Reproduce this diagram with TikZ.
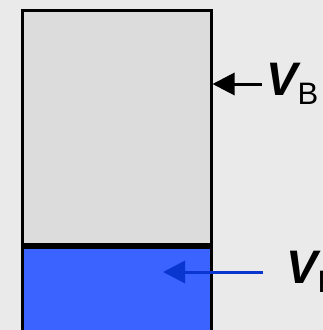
\documentclass[tikz,border=0pt]{standalone}
\usepackage{fontspec}
\setmainfont{Liberation Sans}
\usetikzlibrary{arrows.meta,positioning,calc}
\definecolor{fond}{HTML}{EAEAEA}
\definecolor{cuve}{HTML}{DCDCDC}
\definecolor{fluide}{HTML}{3A63FF}
\definecolor{bleuF}{HTML}{0A36D0}
\tikzset{
  part/.style={rectangle, draw=black, line width=3pt, fill=#1, minimum width=189pt, inner sep=0pt},
  lab/.style={inner sep=0pt, anchor=west},
  arr/.style={-{Triangle[length=22pt,width=22pt]}, line width=3pt, draw=#1},
}
\newcommand{\lettre}[2]{{\fontsize{47}{47}\selectfont\bfseries\itshape #1}{\fontsize{31}{31}\selectfont\raisebox{-9pt}{#2}}}

\begin{document}
\begin{tikzpicture}[x=1pt,y=-1pt]
        \fill[fond] (0,0) rectangle (323,330);
        \useasboundingbox (0,0) rectangle (323,330);
        \begin{scope}
          \clip (0,0) rectangle (323,330);
          \node[part=cuve, minimum height=234pt, anchor=north west] (a) at (20.5,8.5) {};
          \node[part=fluide, minimum height=100pt, anchor=north west] (b) at (a.south west) {};
        \end{scope}
        \node[lab] (vb) at (266,84) {\lettre{V}{B}};
        \node[lab] (vf) at (286,272) {\lettre{V}{F}};
        \coordinate (pf) at (163,272);
        \draw[arr=black] ($(vb.west)+(-4,0)$) -- (a.east |- vb.west);
        \draw[arr=bleuF] ($(vf.west)+(-23,0)$) -- (pf);
      \end{tikzpicture}
\end{document}
